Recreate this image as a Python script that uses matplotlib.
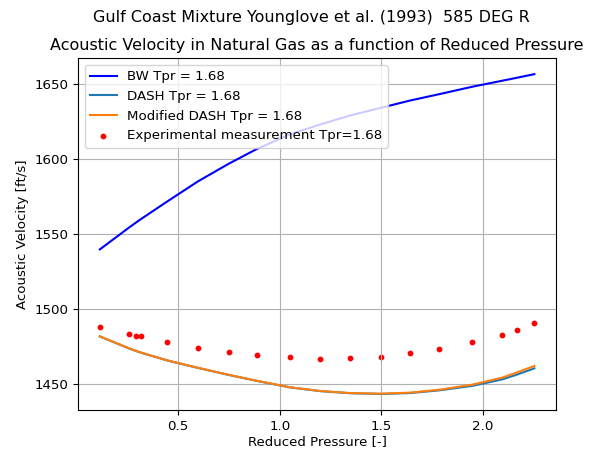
import numpy as np
import matplotlib
matplotlib.use("Agg")
import matplotlib.pyplot as plt

plt.rcParams['font.size'] = 9.6

# Reduced pressure of the experimental points (Younglove et al. 1993)
ppr = [0.114, 0.258, 0.292, 0.316, 0.445, 0.597, 0.749, 0.888, 1.050,
       1.199, 1.346, 1.500, 1.642, 1.784, 1.948, 2.095, 2.168, 2.254]

# Measured acoustic velocity [ft/s]
v_exp = [1487.8, 1483.3, 1482.0, 1481.6, 1477.6, 1473.8, 1471.1, 1469.3, 1468.0,
         1466.7, 1467.3, 1468.0, 1470.4, 1473.1, 1477.6, 1482.7, 1486.0, 1490.2]

# Model predictions at the same reduced pressures
v_bw = [1539.6, 1554.2, 1557.5, 1559.8, 1571.5, 1585.0, 1596.8, 1606.7, 1616.4,
        1623.0, 1629.0, 1634.2, 1639.0, 1643.2, 1648.2, 1652.2, 1654.2, 1656.6]
v_dash = [1481.5, 1473.5, 1471.8, 1470.7, 1465.5, 1460.5, 1455.8, 1451.8, 1447.5,
          1445.0, 1443.6, 1443.1, 1443.7, 1445.5, 1448.5, 1452.8, 1456.0, 1460.2]
v_mdash = [1481.6, 1473.6, 1471.9, 1470.8, 1465.6, 1460.6, 1455.9, 1451.9, 1447.6,
           1445.1, 1443.7, 1443.3, 1444.0, 1445.9, 1449.3, 1454.0, 1457.5, 1461.8]

tpr = 1.68

fig = plt.figure(figsize=(5.96, 4.51), dpi=100)
ax = fig.add_axes([0.131, 0.091, 0.802, 0.780])

ax.plot(ppr, v_bw, color='blue', label='BW Tpr = ' + str(tpr))
ax.plot(ppr, v_dash, color='C0', label='DASH Tpr = ' + str(tpr))
ax.plot(ppr, v_mdash, color='C1', label='Modified DASH Tpr = ' + str(tpr))
ax.scatter(ppr, v_exp, s=10, color='red', label='Experimental measurement Tpr=' + str(tpr))

ax.set_xticks([0.5, 1.0, 1.5, 2.0])
ax.set_yticks([1450, 1500, 1550, 1600, 1650])
ax.grid(True)
ax.set_xlabel('Reduced Pressure [-]', labelpad=2)
ax.set_ylabel('Acoustic Velocity [ft/s]')
ax.set_title('Acoustic Velocity in Natural Gas as a function of Reduced Pressure', fontsize=11.5)
fig.suptitle('Gulf Coast Mixture Younglove et al. (1993)  585 DEG R', fontsize=11.5, x=0.522, y=0.977)
ax.legend(loc='upper left')

plt.savefig('out.png', dpi=100)
plt.close()
